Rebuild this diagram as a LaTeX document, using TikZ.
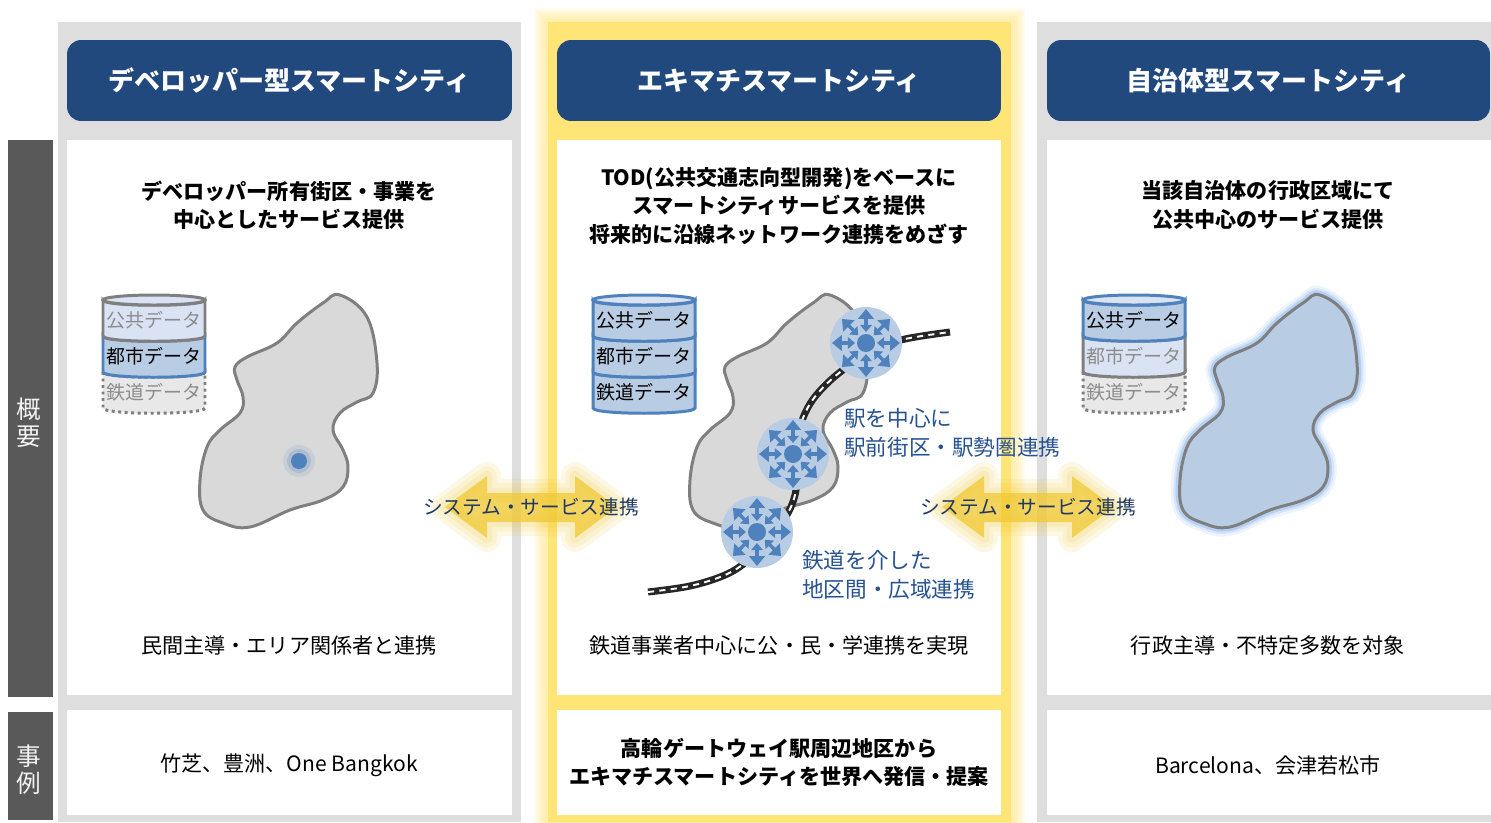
\documentclass[tikz,border=0pt]{standalone}
\usepackage{fontspec}
\setmainfont{Noto Sans CJK JP}
\usetikzlibrary{arrows.meta}

\definecolor{navy}{RGB}{33,73,125}
\definecolor{panelgray}{RGB}{222,222,222}
\definecolor{sidegray}{RGB}{89,89,89}
\definecolor{ekiyellow}{RGB}{255,228,118}
\definecolor{paleblue}{RGB}{218,227,243}
\definecolor{midblue}{RGB}{184,204,228}
\definecolor{lineblue}{RGB}{79,129,189}
\definecolor{linegray}{RGB}{127,127,127}
\definecolor{mapgray}{RGB}{217,217,217}
\definecolor{textblue}{RGB}{38,82,145}
\definecolor{linkblue}{RGB}{31,56,100}
\definecolor{linkyellow}{RGB}{240,200,50}
\definecolor{glowblue}{RGB}{120,170,235}

\tikzset {
    header/.style={fill=navy, rounded corners=8pt, text=white, minimum height=1.62cm,
        font=\fontsize{14.8}{18}\selectfont\bfseries},
    lead/.style={align=center, font=\fontsize{12}{16}\selectfont\bfseries},
    body/.style={align=center, font=\fontsize{12}{16}\selectfont},
    sidetext/.style={align=center, text=white!95!black, font=\fontsize{14}{15.5}\selectfont},
    railnote/.style={align=left, anchor=west, text=textblue, font=\fontsize{12.3}{16.8}\selectfont},
    linktext/.style={text=linkblue, font=\fontsize{11.2}{13}\selectfont},
    city/.style={draw=linegray, line width=1.7pt, fill=mapgray},
    slabon/.style={draw=lineblue, line width=1.7pt, fill=midblue},
    slabdim/.style={draw=linegray, line width=1.7pt, fill=paleblue},
    slaboff/.style={draw=linegray, line width=1.7pt, dotted, fill=mapgray!60},
    slabon text/.style={text=black},
    slabdim text/.style={text=black!45},
    slaboff text/.style={text=black!45},
    station/.style={circle, fill=midblue, minimum size=1.44cm, inner sep=0pt},
    spoke/.style={draw=lineblue, line width=1.9pt,
        {Triangle[length=4pt, width=6.5pt]}-{Triangle[length=5.6pt, width=8.8pt]}},
    railbed/.style={draw=black!85, line width=4pt},
    railtie/.style={draw=white, line width=1.1pt, dash pattern=on 3.5pt off 3pt}
}

% one band of a data cylinder: x, top y, style, label, name
\newcommand{\dbslab}[5]{
    \draw[#3] (#1,#2) -- (#1,#2+36) .. controls (#1,#2+43) and (#1+102,#2+43) .. (#1+102,#2+36)
        -- (#1+102,#2) .. controls (#1+102,#2+7) and (#1,#2+7) .. cycle;
    \node[#3 text, font=\fontsize{10.8}{12}\selectfont] (#5) at (#1+51,#2+20) {#4};
}
\newcommand{\dbtop}[2]{
    \draw[#2, fill=paleblue] (#1+51,300) ellipse [x radius=1.02cm, y radius=0.1cm];
}

\newcommand{\cityshape}{plot[smooth cycle, tension=0.65] coordinates {
    (340,295) (367,317) (377,363) (373,393) (357,402) (340,413) (333,430)
    (343,450) (348,467) (343,487) (323,500) (290,510) (250,527) (223,523)
    (203,510) (200,480) (207,447) (220,430) (240,413) (243,397) (237,380)
    (235,367) (247,357) (277,343) (297,323) (323,303)}}

\newcommand{\railpath}{plot[smooth, tension=0.6] coordinates {
    (648,592) (690,586) (725,575) (747,561) (766,540) (785,518) (795,495)
    (797,470) (798,440) (803,418) (814,398) (833,378) (856,361) (880,348)
    (905,339) (950,332)}}

\newcommand{\linkshape}[1]{(#1-86,507) -- (#1-44,476) -- (#1-44,493) -- (#1+44,493)
    -- (#1+44,476) -- (#1+86,507) -- (#1+44,538) -- (#1+44,522) -- (#1-44,522)
    -- (#1-44,538) -- cycle}

\begin{document}
\begin{tikzpicture}[x=0.02cm, y=-0.02cm]
    \useasboundingbox (0,0) rectangle (1491,822);

    % column backgrounds
    \fill[panelgray] (58,22) rectangle (521,822);
    \fill[panelgray] (1037,22) rectangle (1491,822);
    \foreach \g in {14,12,...,2}
        \fill[ekiyellow, opacity=0.12] (548-\g,22-\g) rectangle (1011+\g,822+\g);
    \fill[ekiyellow] (548,22) rectangle (1011,822);

    \fill[sidegray] (8,140) rectangle (53,697);
    \fill[sidegray] (8,712) rectangle (53,820);
    \node[sidetext] (tagOverview) at (29,423) {概\\要};
    \node[sidetext] (tagCase) at (29,770) {事\\例};

    \foreach \xa/\xb in {67/512, 557/1001, 1047/1491} {
        \fill[white] (\xa,140) rectangle (\xb,695);
        \fill[white] (\xa,710) rectangle (\xb,815);
    }

    \node[header, minimum width=8.9cm] (hdDev) at (289.5,80.5) {デベロッパー型スマートシティ};
    \node[header, minimum width=8.88cm] (hdEki) at (779,80.5) {エキマチスマートシティ};
    \node[header, minimum width=8.86cm] (hdGov) at (1268.5,80.5) {自治体型スマートシティ};

    \node[lead] (leadDev) at (289,205) {デベロッパー所有街区・事業を\\中心としたサービス提供};
    \node[lead] (leadEki) at (779,206) {TOD(公共交通志向型開発)をベースに\\スマートシティサービスを提供\\将来的に沿線ネットワーク連携をめざす};
    \node[lead] (leadGov) at (1268,205) {当該自治体の行政区域にて\\公共中心のサービス提供};

    % data cylinders
    \dbslab{103}{372}{slaboff}{鉄道データ}{railDev}
    \dbslab{103}{336}{slabon}{都市データ}{cityDev}
    \dbslab{103}{300}{slabdim}{公共データ}{publicDev}
    \dbtop{103}{slabdim}
    \dbslab{593}{372}{slabon}{鉄道データ}{railEki}
    \dbslab{593}{336}{slabon}{都市データ}{cityEki}
    \dbslab{593}{300}{slabon}{公共データ}{publicEki}
    \dbtop{593}{slabon}
    \dbslab{1083}{372}{slaboff}{鉄道データ}{railGov}
    \dbslab{1083}{336}{slabdim}{都市データ}{cityGov}
    \dbslab{1083}{300}{slabon}{公共データ}{publicGov}
    \dbtop{1083}{slabon}

    % city areas
    \draw[city] \cityshape;
    \fill[lineblue, opacity=0.12] (299,461) circle[radius=0.32cm];
    \fill[lineblue, opacity=0.22] (299,461) circle[radius=0.24cm];
    \fill[lineblue] (299,461) circle[radius=0.16cm];

    \draw[city, shift={(490,0)}] \cityshape;

    \foreach \w/\o in {10/0.12, 7/0.2, 4.5/0.35}
        \draw[glowblue, line width=\w pt, opacity=\o, shift={(980,0)}] \cityshape;
    \draw[city, fill=midblue, shift={(980,0)}] \cityshape;

    % railway and stations
    \draw[railbed] \railpath;
    \draw[railtie] \railpath;
    \node[station] (stNorth) at (866,343) {};
    \node[station] (stMid) at (793,454) {};
    \node[station] (stSouth) at (757,532) {};
    \foreach \s in {stNorth, stMid, stSouth} {
        \fill[lineblue] (\s.center) circle[radius=0.18cm];
        \foreach \a in {0,45,...,315}
            \draw[spoke] (\s.center) ++(\a:11) -- ++(\a:23);
    }

    \node[railnote] (noteStation) at (838,433) {駅を中心に\\駅前街区・駅勢圏連携};
    \node[railnote] (noteLine) at (796,575) {鉄道を介した\\地区間・広域連携};

    % links between the columns
    \foreach \c/\nm in {531/linkDev, 1028/linkGov} {
        \foreach \w in {16,11,6}
            \draw[linkyellow, opacity=0.12, line width=\w pt, line join=round] \linkshape{\c};
        \fill[linkyellow, opacity=0.75] \linkshape{\c};
        \node[linktext] (\nm) at (\c,507) {システム・サービス連携};
    }

    \node[body] (noteDev) at (289,645) {民間主導・エリア関係者と連携};
    \node[body] (noteEki) at (779,645) {鉄道事業者中心に公・民・学連携を実現};
    \node[body] (noteGov) at (1268,645) {行政主導・不特定多数を対象};

    \node[body] (caseDev) at (289,765) {竹芝、豊洲、One Bangkok};
    \node[lead] (caseEki) at (779,762) {高輪ゲートウェイ駅周辺地区から\\エキマチスマートシティを世界へ発信・提案};
    \node[body] (caseGov) at (1268,765) {Barcelona、会津若松市};
\end{tikzpicture}
\end{document}
